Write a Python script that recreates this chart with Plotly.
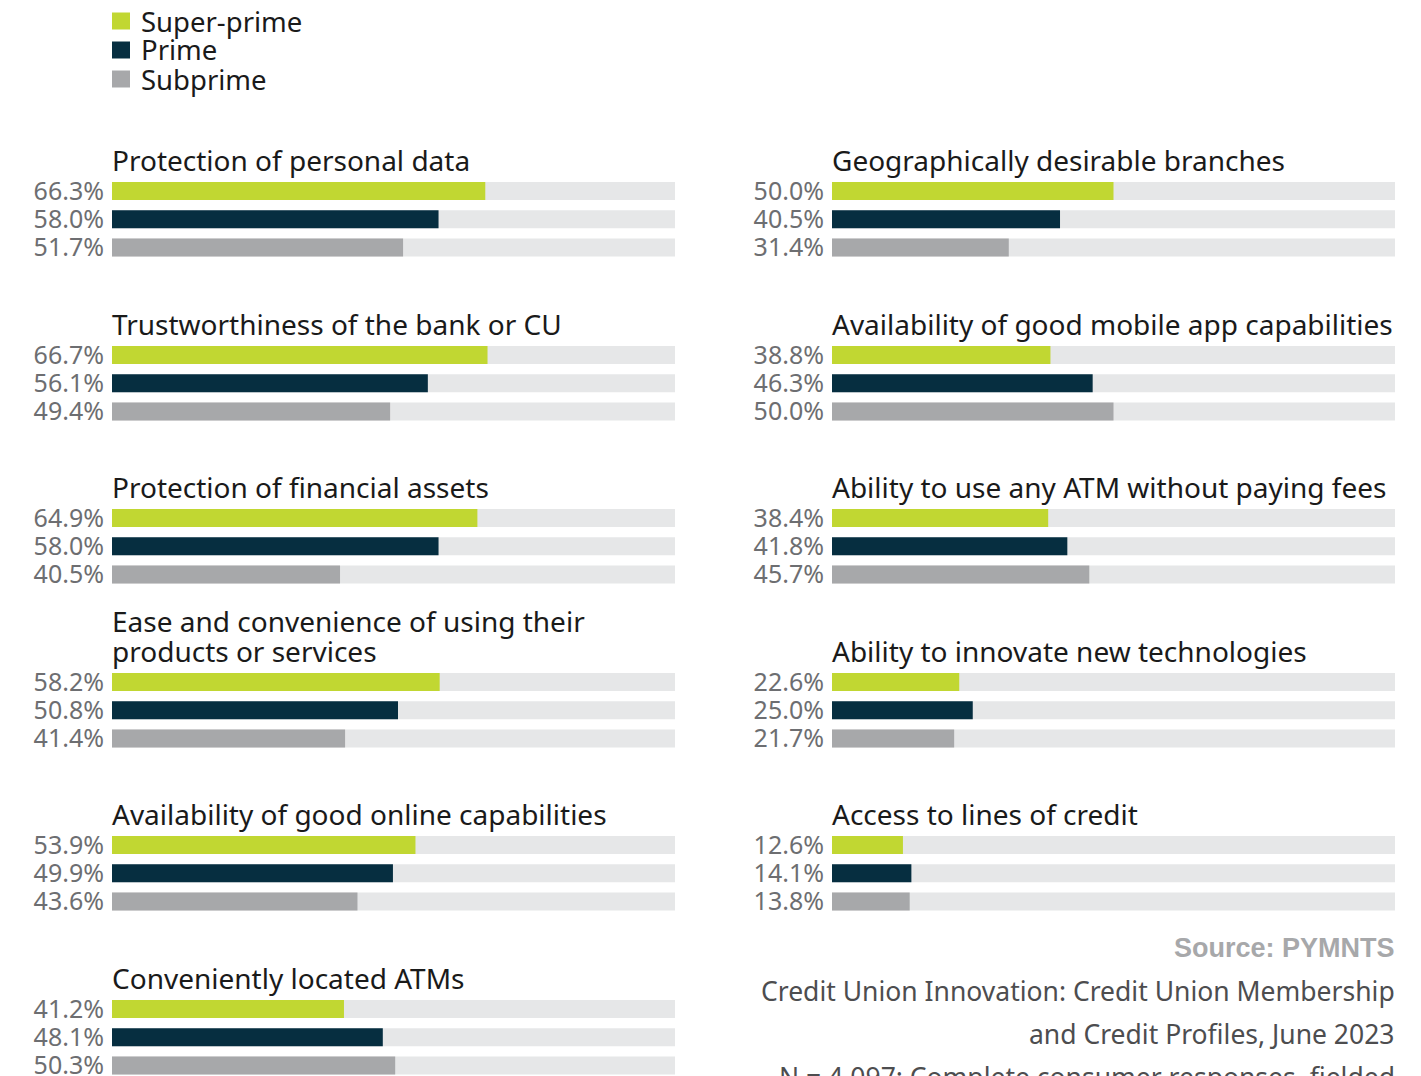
import plotly.graph_objects as go

W, H = 1421, 1076

# Survey results: share of consumers rating each attribute important, by credit tier
segments = ["Super-prime", "Prime", "Subprime"]
colors = ["#C1D732", "#062E40", "#A7A8AA"]
track_color = "#E6E7E8"

left_titles = [
    "Protection of personal data",
    "Trustworthiness of the bank or CU",
    "Protection of financial assets",
    "Ease and convenience of using their<br>products or services",
    "Availability of good online capabilities",
    "Conveniently located ATMs",
]
left_super = [66.3, 66.7, 64.9, 58.2, 53.9, 41.2]
left_prime = [58.0, 56.1, 58.0, 50.8, 49.9, 48.1]
left_sub = [51.7, 49.4, 40.5, 41.4, 43.6, 50.3]

right_titles = [
    "Geographically desirable branches",
    "Availability of good mobile app capabilities",
    "Ability to use any ATM without paying fees",
    "Ability to innovate new technologies",
    "Access to lines of credit",
]
right_super = [50.0, 38.8, 38.4, 22.6, 12.6]
right_prime = [40.5, 46.3, 41.8, 25.0, 14.1]
right_sub = [31.4, 50.0, 45.7, 21.7, 13.8]

source_head = "Source: PYMNTS"
source_lines = [
    "Credit Union Innovation: Credit Union Membership",
    "and Credit Profiles, June 2023",
    "N = 4,097: Complete consumer responses, fielded",
]

# Layout geometry in pixels
col_x = [(112, 675), (832, 1395)]
left_rows = [191, 355, 518, 682, 845, 1009]
right_rows = [191, 355, 518, 682, 845]
row_step = 28.2
bar_px = 18
legend_rows = [21, 50, 79]

title_font = dict(family="Noto Sans, sans-serif", size=28, color="#1A1A1A")
label_font = dict(family="Noto Sans, sans-serif", size=25, color="#6D6E71")


def py(px):
    return 1 - px / H


panels = []
for i, t in enumerate(left_titles):
    panels.append((0, left_rows[i], t, [left_super[i], left_prime[i], left_sub[i]]))
for i, t in enumerate(right_titles):
    panels.append((1, right_rows[i], t, [right_super[i], right_prime[i], right_sub[i]]))

fig = go.Figure()
layout = {}
annotations = []
shapes = []

for k, (col, c0, title, vals) in enumerate(panels):
    n = k + 1
    xa = "x" if n == 1 else f"x{n}"
    ya = "y" if n == 1 else f"y{n}"
    top = c0 - row_step / 2
    bottom = min(c0 + 2 * row_step + row_step / 2, H)
    y_hi = -0.5 + (bottom - top) / row_step
    x0, x1 = col_x[col]

    layout["xaxis" if n == 1 else f"xaxis{n}"] = dict(
        domain=[x0 / W, x1 / W], range=[0, 100], visible=False, fixedrange=True,
        anchor=ya, automargin=False,
    )
    layout["yaxis" if n == 1 else f"yaxis{n}"] = dict(
        domain=[py(bottom), py(top)], range=[y_hi, -0.5], anchor=xa,
        tickvals=[0, 1, 2], ticktext=[f"{v:.1f}%" for v in vals],
        tickfont=label_font, ticks="", showgrid=False, zeroline=False,
        showline=False, ticklabelstandoff=7, ticklabeloverflow="allow",
        automargin=False, fixedrange=True,
    )

    w = bar_px / row_step
    fig.add_trace(go.Bar(
        x=[100, 100, 100], y=[0, 1, 2], orientation="h", width=w,
        marker=dict(color=track_color, line_width=0), xaxis=xa, yaxis=ya,
        showlegend=False, hoverinfo="skip", cliponaxis=False,
    ))
    fig.add_trace(go.Bar(
        x=vals, y=[0, 1, 2], orientation="h", width=w,
        marker=dict(color=colors, line_width=0), xaxis=xa, yaxis=ya,
        showlegend=False, hoverinfo="skip", cliponaxis=False,
    ))

    # Panel title, one annotation per line so the line spacing stays tight
    lines = title.split("<br>")
    for j, line in enumerate(lines):
        center = c0 - 31 - (len(lines) - 1 - j) * 30
        annotations.append(dict(
            text=line, x=(x0 - 2) / W, y=py(center), xref="paper", yref="paper",
            xanchor="left", yanchor="middle", showarrow=False, align="left",
            font=title_font,
        ))

# Legend key: colour swatch plus segment name
for j, (name, col) in enumerate(zip(segments, colors)):
    cy = legend_rows[j]
    shapes.append(dict(
        type="rect", xref="paper", yref="paper",
        x0=112 / W, x1=130 / W, y0=py(cy + 8.5), y1=py(cy - 8.5),
        fillcolor=col, line_width=0,
    ))
    annotations.append(dict(
        text=name, x=139 / W, y=py(cy), xref="paper", yref="paper",
        xanchor="left", yanchor="middle", showarrow=False,
        font=dict(family="Noto Sans, sans-serif", size=27.5, color="#1A1A1A"),
    ))

# Source notes
annotations.append(dict(
    text=f"<b>{source_head}</b>", x=1397 / W, y=py(948), xref="paper", yref="paper",
    xanchor="right", yanchor="middle", showarrow=False,
    font=dict(family="Liberation Sans, Arial, sans-serif", size=27, color="#A7A8AA"),
))
for j, line in enumerate(source_lines):
    annotations.append(dict(
        text=line, x=1397 / W, y=py(991 + 43 * j), xref="paper", yref="paper",
        xanchor="right", yanchor="middle", showarrow=False,
        font=dict(family="Noto Sans, sans-serif", size=26.5, color="#4D4D4F"),
    ))

fig.update_layout(
    **layout,
    width=W, height=H,
    margin=dict(l=0, r=0, t=0, b=0),
    paper_bgcolor="white", plot_bgcolor="white",
    barmode="overlay",
    annotations=annotations,
    shapes=shapes,
    showlegend=False,
)

fig.write_html("out.html")
